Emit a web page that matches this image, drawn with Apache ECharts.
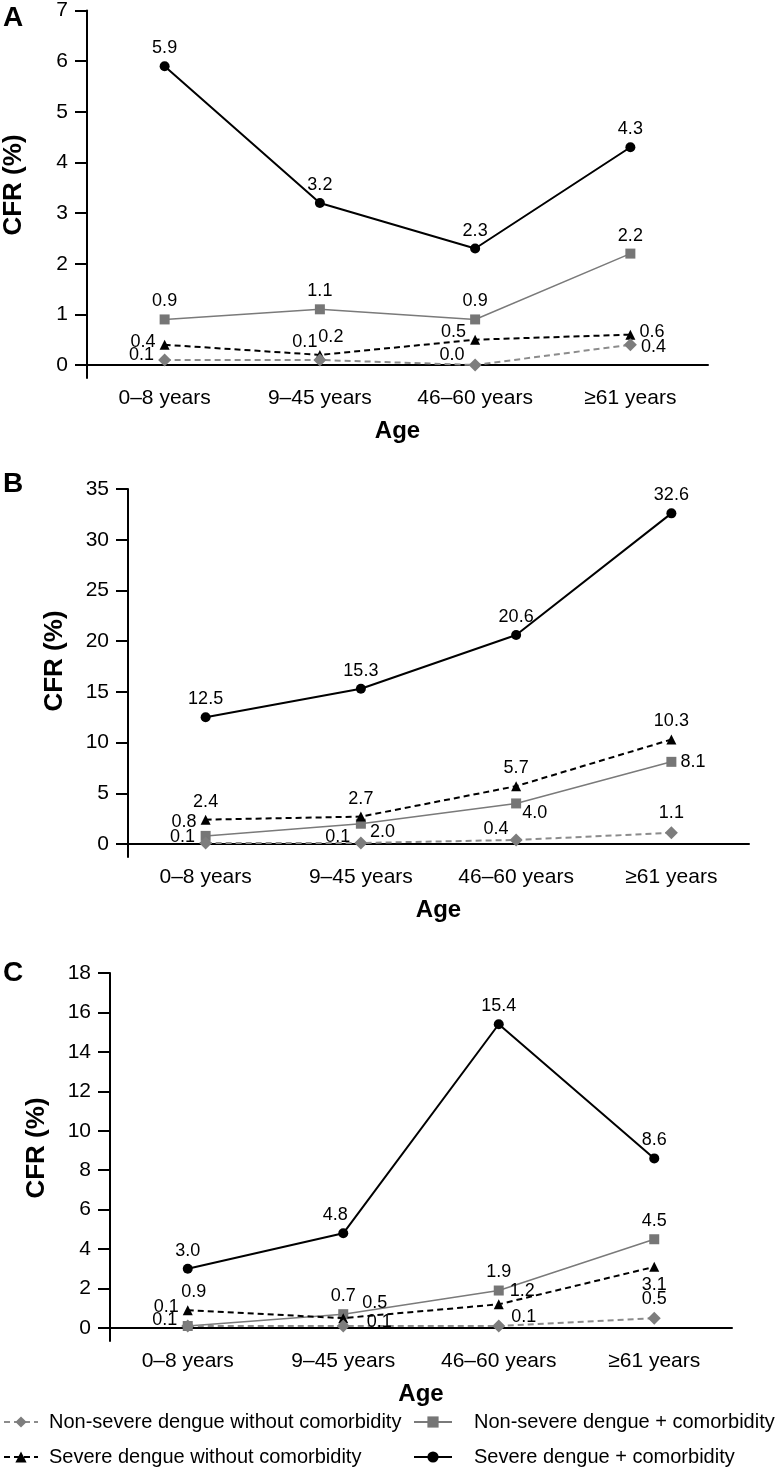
<!DOCTYPE html>
<html>
<head>
<meta charset="utf-8">
<title>CFR by age</title>
<script src="https://cdn.jsdelivr.net/npm/echarts@6/dist/echarts.min.js"></script>
<style>
  html, body { margin: 0; padding: 0; background: #fff; }
  #main { width: 781px; height: 1470px; }
</style>
</head>
<body>
<div id="main"></div>
<script>
// categories
var ageGroups = ['0–8 years', '9–45 years', '46–60 years', '≥61 years'];
var seriesNames = [
    'Severe dengue + comorbidity',
    'Non-severe dengue + comorbidity',
    'Severe dengue without comorbidity',
    'Non-severe dengue without comorbidity'
];

// panel A
var aSevereCom = [5.9, 3.2, 2.3, 4.3];
var aNonSevereCom = [0.9, 1.1, 0.9, 2.2];
var aSevereNoCom = [0.4, 0.2, 0.5, 0.6];
var aNonSevereNoCom = [0.1, 0.1, 0.0, 0.4];
var aTicks = [0, 1, 2, 3, 4, 5, 6, 7];

// panel B
var bSevereCom = [12.5, 15.3, 20.6, 32.6];
var bNonSevereCom = [0.8, 2.0, 4.0, 8.1];
var bSevereNoCom = [2.4, 2.7, 5.7, 10.3];
var bNonSevereNoCom = [0.1, 0.1, 0.4, 1.1];
var bTicks = [0, 5, 10, 15, 20, 25, 30, 35];

// panel C
var cSevereCom = [3.0, 4.8, 15.4, 8.6];
var cNonSevereCom = [0.1, 0.7, 1.9, 4.5];
var cSevereNoCom = [0.9, 0.5, 1.2, 3.1];
var cNonSevereNoCom = [0.1, 0.1, 0.1, 0.5];
var cTicks = [0, 2, 4, 6, 8, 10, 12, 14, 16, 18];

// where each value label sits: [position, dx, dy]
var T = ['top', 0, 0];
var placeA = [
    [T, T, T, T],
    [T, T, T, T],
    [['left', 0, -3], ['top', 11, 0], ['left', 0, -8], ['right', 0, -3]],
    [['left', 0, -5], ['top', -15, 2], ['left', 0, -10], ['right', 0, 2]]
];
var placeB = [
    [T, T, T, T],
    [['left', 0, -14], ['right', 0, 8], ['right', -3, 10], ['right', 0, 0]],
    [T, T, T, T],
    [['left', 0, -6], ['left', 0, -6], ['left', 3, -11], T]
];
var placeC = [
    [T, ['top', -8, 0], T, T],
    [['left', 0, -19], T, T, T],
    [['top', 6, 0], ['right', 10, -15], ['right', 2, -13], ['bottom', 0, 0]],
    [['left', 0, -6], ['right', 13, -4], ['right', 2, -9], T]
];

var FONT = 'Liberation Sans, Arial, Helvetica, sans-serif';

// look of the four series, same order as seriesNames
var looks = [
    { color: '#000000', line: '#000000', width: 2, type: 'solid', symbol: 'circle', size: 10 },
    { color: '#767676', line: '#7a7a7a', width: 1.5, type: 'solid', symbol: 'rect', size: 10 },
    { color: '#000000', line: '#000000', width: 2, type: [6, 4], symbol: 'triangle', size: 10 },
    { color: '#7d7d7d', line: '#8c8c8c', width: 2, type: [6, 4], symbol: 'diamond', size: 13 }
];

// panels: grid box + values
var panels = [
    { top: 10, left: 87, right: 73, max: 7, ticks: aTicks,
      values: [aSevereCom, aNonSevereCom, aSevereNoCom, aNonSevereNoCom], place: placeA },
    { top: 489, left: 128, right: 32, max: 35, ticks: bTicks,
      values: [bSevereCom, bNonSevereCom, bSevereNoCom, bNonSevereNoCom], place: placeB },
    { top: 973, left: 110, right: 49, max: 18, ticks: cTicks,
      values: [cSevereCom, cNonSevereCom, cSevereNoCom, cNonSevereNoCom], place: placeC }
];

var PLOT_H = 355;   // px from 0 to max
var EXT = 13;       // y axis runs a bit below zero

var grids = [], xAxes = [], yAxes = [], series = [];

panels.forEach(function (p, gi) {
    grids.push({
        top: p.top,
        left: p.left,
        right: p.right,
        height: PLOT_H + EXT,
        containLabel: false
    });
    xAxes.push({
        type: 'category',
        gridIndex: gi,
        data: ageGroups,
        boundaryGap: true,
        axisLine: { onZero: true, lineStyle: { color: '#000', width: 2 } },
        axisTick: { show: false },
        axisLabel: { color: '#000', fontSize: 21, fontFamily: FONT, margin: 10 },
        name: 'Age',
        nameLocation: 'middle',
        nameGap: 41,
        nameMoveOverlap: false,
        nameTextStyle: { color: '#000', fontSize: 24, fontWeight: 'bold', fontFamily: FONT }
    });
    yAxes.push({
        type: 'value',
        gridIndex: gi,
        min: -p.max * EXT / PLOT_H,
        max: p.max,
        splitLine: { show: false },
        axisLine: { show: true, onZero: false, lineStyle: { color: '#000', width: 2 } },
        axisTick: { show: true, length: 12, customValues: p.ticks, lineStyle: { color: '#000', width: 2 } },
        axisLabel: { color: '#000', fontSize: 21, fontFamily: FONT, margin: 19, customValues: p.ticks }
    });
    p.values.forEach(function (vals, si) {
        var lk = looks[si];
        series.push({
            name: seriesNames[si],
            type: 'line',
            xAxisIndex: gi,
            yAxisIndex: gi,
            symbol: lk.symbol,
            symbolSize: lk.size,
            itemStyle: { color: lk.color },
            lineStyle: { color: lk.line, width: lk.width, type: lk.type },
            data: vals.map(function (v, i) {
                var pl = p.place[si][i];
                return {
                    value: v,
                    label: { position: pl[0], offset: [pl[1], pl[2]] }
                };
            }),
            label: {
                show: true,
                color: '#000',
                fontSize: 18,
                fontFamily: FONT,
                distance: 4,
                formatter: function (prm) { return prm.value.toFixed(1); }
            },
            animation: false,
            z: 2 + si
        });
    });
});

var legendText = { color: '#000', fontSize: 20, fontFamily: FONT, lineHeight: 20 };

var option = {
    backgroundColor: '#fff',
    animation: false,
    grid: grids,
    xAxis: xAxes,
    yAxis: yAxes,
    series: series,
    legend: [
        {
            orient: 'vertical',
            left: 3,
            top: 1412,
            padding: 0,
            itemGap: 15,
            itemWidth: 34,
            itemHeight: 14,
            selectedMode: false,
            data: [seriesNames[3], seriesNames[2]],
            textStyle: Object.assign({ padding: [0, 0, 0, 6] }, legendText)
        },
        {
            orient: 'vertical',
            left: 413,
            top: 1412,
            padding: 0,
            itemGap: 15,
            itemWidth: 38,
            itemHeight: 14,
            selectedMode: false,
            data: [seriesNames[1], seriesNames[0]],
            textStyle: Object.assign({ padding: [0, 0, 0, 17] }, legendText)
        }
    ],
    graphic: [
        { type: 'text', left: 3, top: 4, style: { text: 'A', font: 'bold 28px ' + FONT, fill: '#000' } },
        { type: 'text', left: 3, top: 470, style: { text: 'B', font: 'bold 28px ' + FONT, fill: '#000' } },
        { type: 'text', left: 3, top: 959, style: { text: 'C', font: 'bold 28px ' + FONT, fill: '#000' } },
        { type: 'text', x: 14, y: 185, rotation: Math.PI / 2,
          style: { text: 'CFR (%)', font: 'bold 26px ' + FONT, fill: '#000', align: 'center', verticalAlign: 'middle' } },
        { type: 'text', x: 55, y: 661, rotation: Math.PI / 2,
          style: { text: 'CFR (%)', font: 'bold 26px ' + FONT, fill: '#000', align: 'center', verticalAlign: 'middle' } },
        { type: 'text', x: 37, y: 1148, rotation: Math.PI / 2,
          style: { text: 'CFR (%)', font: 'bold 26px ' + FONT, fill: '#000', align: 'center', verticalAlign: 'middle' } }
    ]
};

var myChart = echarts.init(document.getElementById('main'));
myChart.setOption(option);
</script>
</body>
</html>
